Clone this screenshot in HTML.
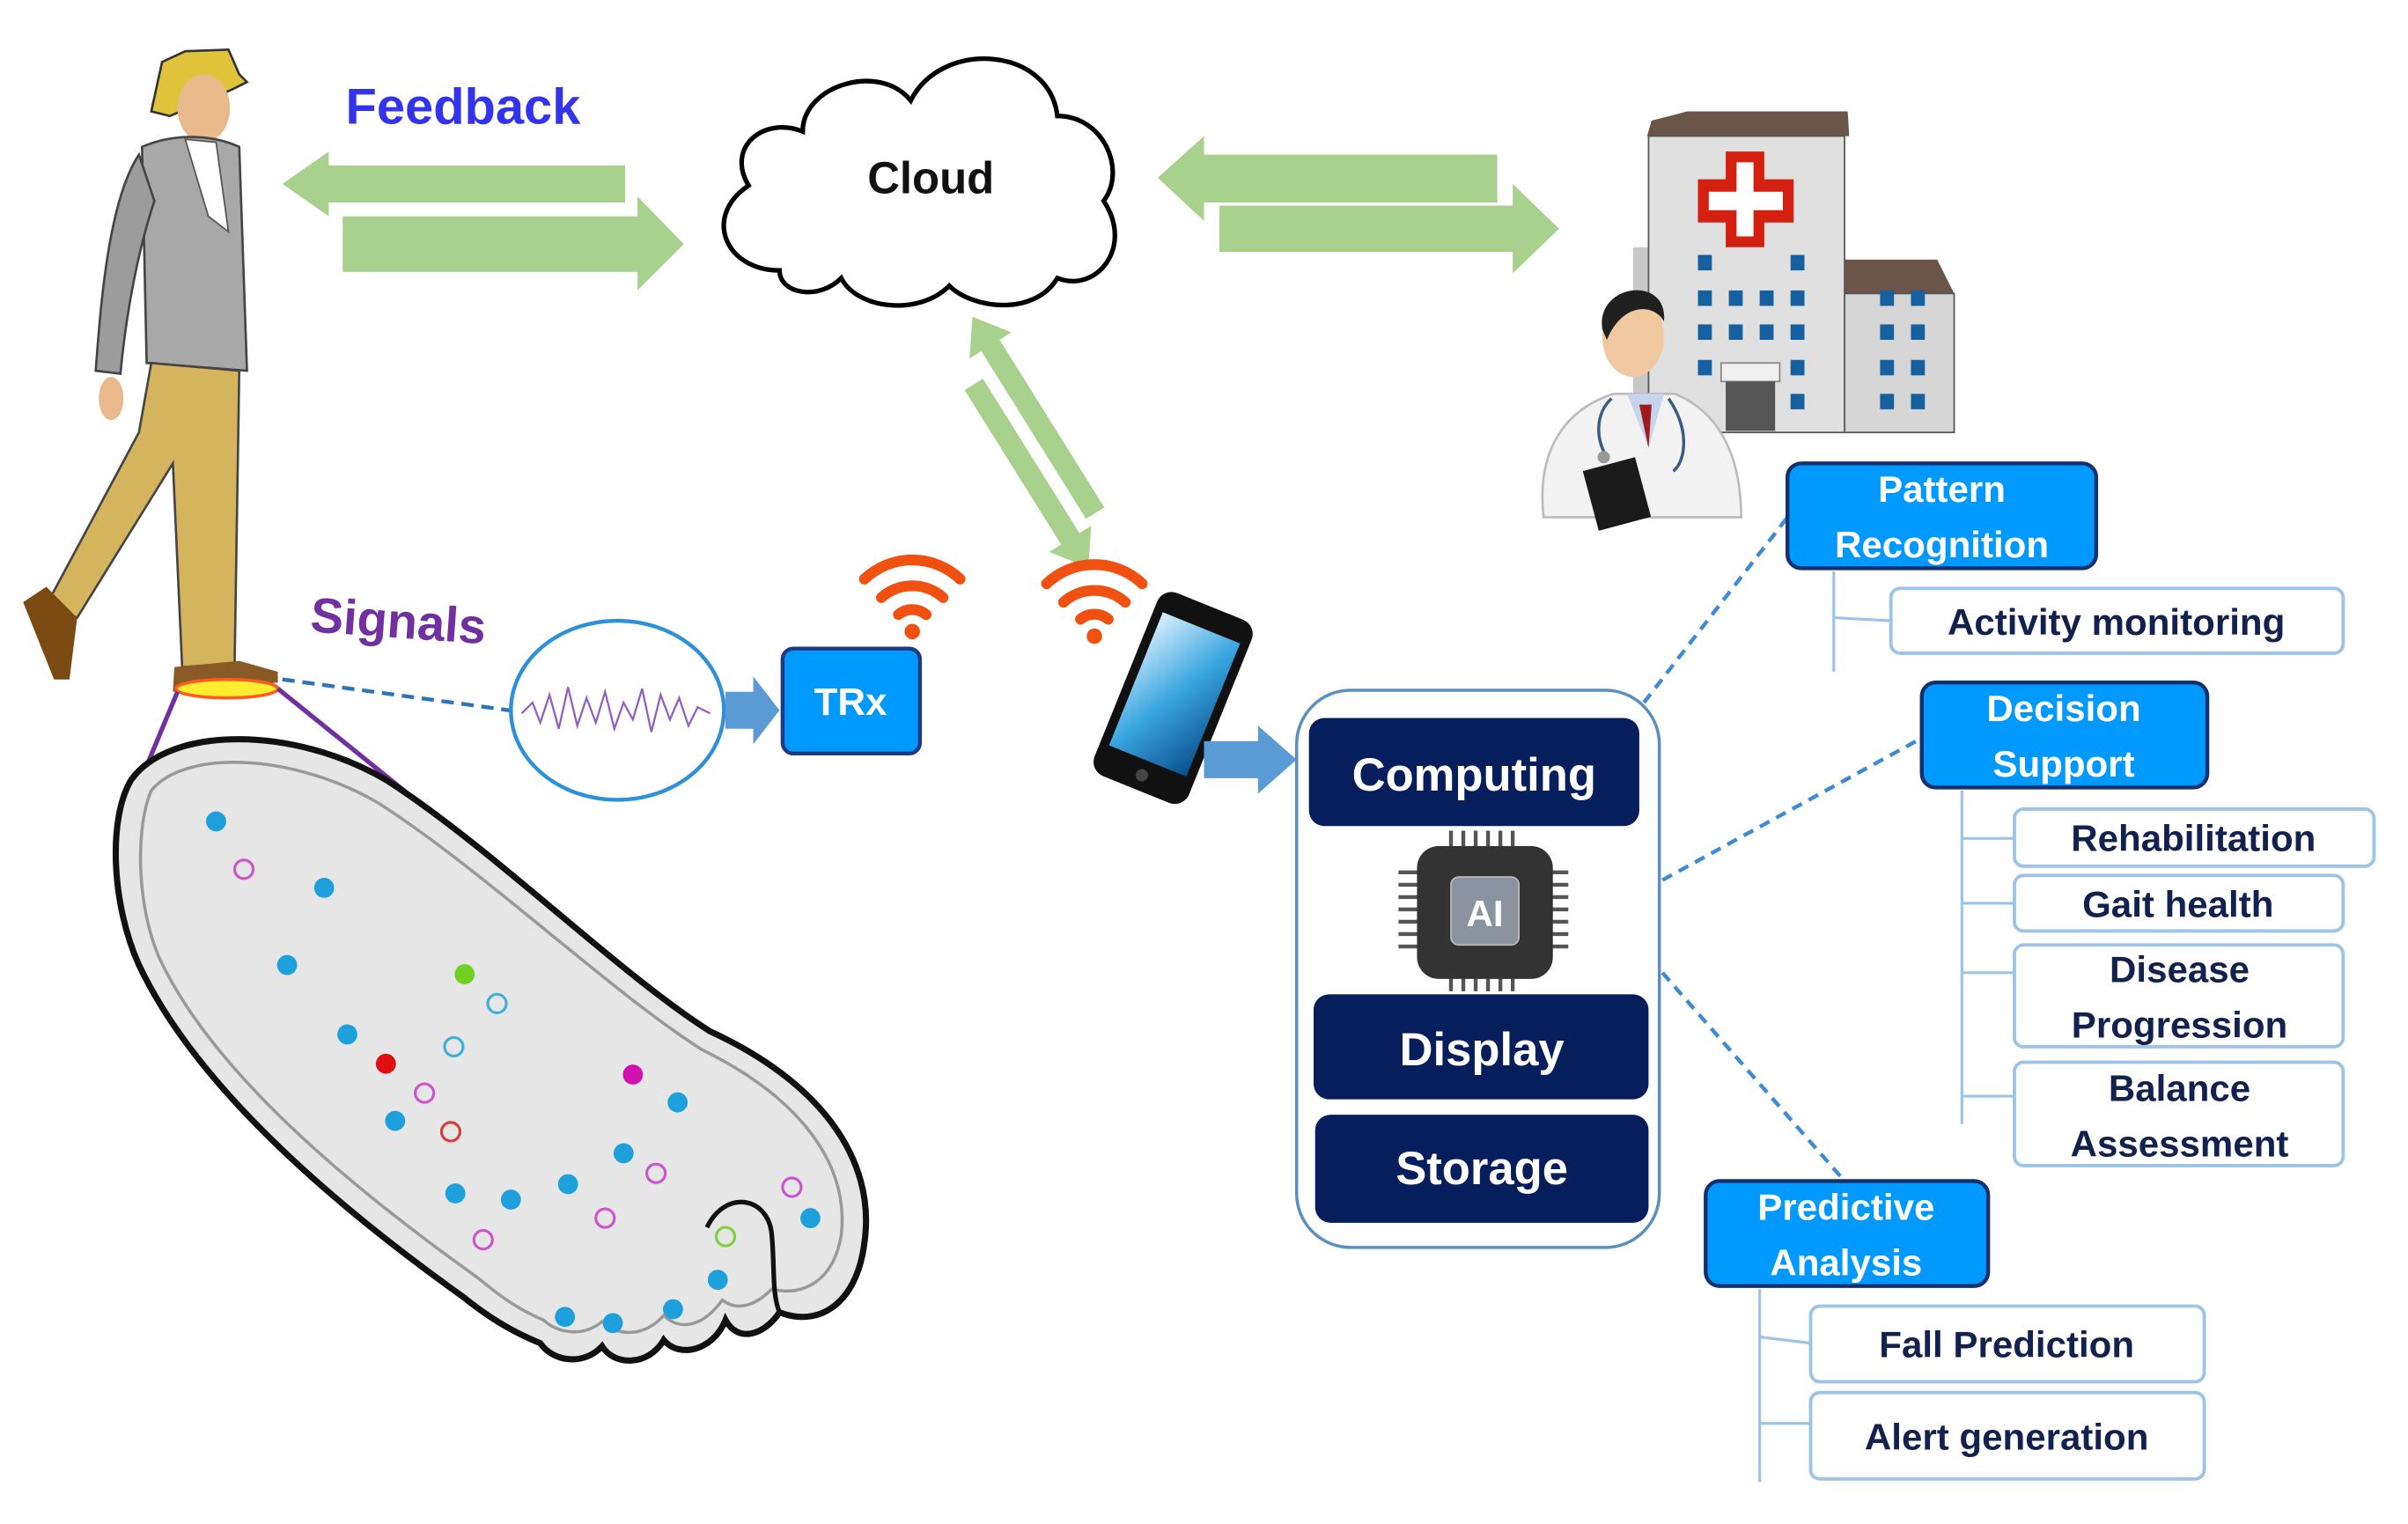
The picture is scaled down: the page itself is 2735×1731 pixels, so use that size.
<!DOCTYPE html>
<html><head><meta charset="utf-8"><style>
html,body{margin:0;padding:0;background:#fff;}
svg{display:block;}
text{font-family:"Liberation Sans",sans-serif;}
</style></head><body>
<svg width="2735" height="1731" viewBox="0 0 1560 987" xmlns="http://www.w3.org/2000/svg">
<defs>
<linearGradient id="scr" x1="0" y1="0" x2="1" y2="1"><stop offset="0" stop-color="#d8f0ff"/><stop offset="0.5" stop-color="#3aa6e0"/><stop offset="1" stop-color="#0b4f8c"/></linearGradient>
</defs>
<text x="300" y="80" font-size="33" font-weight="bold" fill="#3333ee" text-anchor="middle">Feedback</text>
<polygon points="183,119 213,98 213,107 405,107 405,131 213,131 213,140" fill="#a9d18e"/>
<polygon points="222,140 413,140 413,127 443,158 413,188 413,176 222,176" fill="#a9d18e"/>
<polygon points="750,115 780,88 780,100 970,100 970,131 780,131 780,143" fill="#a9d18e"/>
<polygon points="790,133 980,133 980,119 1010,148 980,177 980,163 790,163" fill="#a9d18e"/>
<!-- diagonal arrows (two parallel) -->
<g transform="translate(630,205) rotate(58)">
<polygon points="0,0 22,-16 22,-7 150,-7 150,7 22,7 22,16" fill="#a9d18e"/>
</g>
<g transform="translate(722,357) rotate(238)">
<polygon points="0,0 22,-16 22,-7 140,-7 140,7 22,7 22,16" fill="#a9d18e" transform="translate(0,-20)"/>
</g>
<path d="M505,175 C470,175 455,140 485,120 C470,95 495,75 520,85 C520,55 570,40 590,65 C610,25 680,30 685,75 C715,75 730,110 715,130 C735,160 710,190 685,180 C670,205 630,200 615,185 C595,205 555,200 545,180 C530,195 505,190 505,175 Z" fill="#fff" stroke="#000" stroke-width="3"/>
<text x="603" y="125" font-size="29" font-weight="bold" fill="#111" text-anchor="middle">Cloud</text>
<g>
<rect x="1058" y="160" width="30" height="118" fill="#c8c8c8"/>
<polygon points="1195,168 1255,168 1266,190 1195,190" fill="#6b5548"/>
<rect x="1195" y="190" width="71" height="90" fill="#d6d6d6" stroke="#555"/>
<polygon points="1070,78 1093,72 1197,72 1198,88 1067,88" fill="#6b5548"/>
<rect x="1068" y="88" width="127" height="192" fill="#e0e0e0" stroke="#555"/>
<polygon points="1118,98 1143,98 1143,116 1162,116 1162,144 1143,144 1143,160 1118,160 1118,144 1100,144 1100,116 1118,116" fill="#d42010"/>
<polygon points="1125,105 1136,105 1136,124 1155,124 1155,136 1136,136 1136,153 1125,153 1125,136 1107,136 1107,124 1125,124" fill="#fff"/>
<g fill="#1760a0">
<rect x="1100" y="165" width="9" height="10"/><rect x="1160" y="165" width="9" height="10"/>
<rect x="1100" y="188" width="9" height="10"/><rect x="1120" y="188" width="9" height="10"/><rect x="1140" y="188" width="9" height="10"/><rect x="1160" y="188" width="9" height="10"/>
<rect x="1100" y="210" width="9" height="10"/><rect x="1120" y="210" width="9" height="10"/><rect x="1140" y="210" width="9" height="10"/><rect x="1160" y="210" width="9" height="10"/>
<rect x="1100" y="233" width="9" height="10"/><rect x="1160" y="233" width="9" height="10"/><rect x="1160" y="255" width="9" height="10"/>
<rect x="1218" y="188" width="9" height="10"/><rect x="1238" y="188" width="9" height="10"/>
<rect x="1218" y="210" width="9" height="10"/><rect x="1238" y="210" width="9" height="10"/>
<rect x="1218" y="233" width="9" height="10"/><rect x="1238" y="233" width="9" height="10"/>
<rect x="1218" y="255" width="9" height="10"/><rect x="1238" y="255" width="9" height="10"/>
</g>
<rect x="1115" y="235" width="38" height="12" fill="#f0f0f0" stroke="#888"/>
<rect x="1118" y="247" width="32" height="32" fill="#555"/>
</g>
<g>
<path d="M1000,335 C995,290 1015,265 1045,255 L1085,255 C1110,265 1128,290 1128,335 Z" fill="#f2f2f2" stroke="#bbb" stroke-width="1.5"/>
<polygon points="1054,255 1078,255 1068,290" fill="#c6d4ee"/>
<polygon points="1062,262 1070,262 1068,290" fill="#9e1a1a"/>
<ellipse cx="1058" cy="218" rx="20" ry="26" fill="#f1c9a0"/>
<path d="M1038,213 C1034,183 1081,178 1078,208 C1071,196 1051,196 1041,220 Z" fill="#1f1f1f"/>
<rect x="1030" y="300" width="35" height="40" fill="#1a1a1a" transform="rotate(-15 1047 320)"/>
<path d="M1044,258 C1031,270 1036,290 1041,295 M1081,258 C1096,280 1091,300 1084,305" stroke="#3d5a80" stroke-width="2" fill="none"/>
<circle cx="1039" cy="296" r="4" fill="#999"/>
</g>
<g>
<polygon points="105,40 120,33 148,32 155,48 160,53 150,58 110,75 98,72" fill="#e0c33a" stroke="#333" stroke-width="1.5"/>
<ellipse cx="132" cy="70" rx="17" ry="22" fill="#e9b98b"/>
<path d="M92,95 C115,85 140,88 155,95 L160,240 L95,235 Z" fill="#a8a8a8" stroke="#444" stroke-width="1.5"/>
<path d="M90,100 C70,130 65,200 62,240 L78,242 C82,200 90,160 100,130 Z" fill="#9c9c9c" stroke="#444" stroke-width="1.5"/>
<polygon points="120,90 140,92 148,150 135,140" fill="#fff" stroke="#555"/>
<ellipse cx="72" cy="258" rx="8" ry="14" fill="#e9b98b"/>
<path d="M98,235 L155,240 L152,430 L118,432 L112,300 L50,400 L30,392 L90,280 Z" fill="#d4b55e" stroke="#444" stroke-width="1.5"/>
<path d="M30,380 L50,400 L45,440 L35,440 L15,390 Z" fill="#7a4a12"/>
<path d="M113,432 L155,428 L180,435 L180,442 L112,448 Z" fill="#8a5a25"/>
<ellipse cx="147" cy="446" rx="33" ry="6" fill="#ffee30" stroke="#ff5a20" stroke-width="2"/>
</g>
<text x="258" y="413" font-size="32" font-weight="bold" fill="#7030a0" text-anchor="middle" transform="rotate(4 258 403)">Signals</text>
<line x1="183" y1="440" x2="330" y2="460" stroke="#2e75b6" stroke-width="2.5" stroke-dasharray="8,5"/>
<line x1="115" y1="448" x2="80" y2="532" stroke="#7030a0" stroke-width="3"/>
<line x1="180" y1="446" x2="445" y2="660" stroke="#7030a0" stroke-width="3"/>
<ellipse cx="400" cy="460" rx="69" ry="58" fill="#fff" stroke="#2e90d8" stroke-width="2.5"/>
<polyline points="338,462 345,455 350,468 356,450 362,472 368,445 374,470 380,452 386,468 392,448 398,472 404,455 410,466 416,446 422,474 428,450 434,466 440,452 446,470 452,458 460,462" fill="none" stroke="#9060c0" stroke-width="1.3"/>
<polygon points="470,448 488,448 488,438 505,460 488,482 488,472 470,472" fill="#5b9bd5"/>
<rect x="507" y="420" width="89" height="68" rx="7" fill="#0099ff" stroke="#1f3a80" stroke-width="2.5"/>
<text x="551" y="463" font-size="25" font-weight="bold" fill="#fff" text-anchor="middle">TRx</text>
<g fill="none" stroke="#f05010" stroke-width="7" stroke-linecap="round">
<path d="M560,375 A45,45 0 0 1 622,375"/><path d="M571,387 A30,30 0 0 1 611,387"/><path d="M582,398 A14,14 0 0 1 600,398"/>
<path d="M678,378 A45,45 0 0 1 740,378"/><path d="M689,390 A30,30 0 0 1 729,390"/><path d="M700,401 A14,14 0 0 1 718,401"/>
</g>
<circle cx="591" cy="409" r="5" fill="#f05010"/><circle cx="709" cy="412" r="5" fill="#f05010"/>
<g transform="rotate(22 760 452)">
<rect x="727" y="388" width="66" height="128" rx="10" fill="#111"/>
<rect x="733" y="403" width="54" height="93" fill="url(#scr)"/>
<circle cx="760" cy="506" r="4" fill="#444"/>
</g>
<polygon points="780,480 815,480 815,470 840,492 815,514 815,504 780,504" fill="#5b9bd5"/>
<rect x="840" y="447" width="235" height="361" rx="35" fill="#fff" stroke="#5b8fc0" stroke-width="2"/>
<rect x="848" y="465" width="214" height="70" rx="10" fill="#061f5c"/>
<text x="955" y="512" font-size="30" font-weight="bold" fill="#fff" text-anchor="middle">Computing</text>
<rect x="851" y="644" width="217" height="68" rx="10" fill="#061f5c"/>
<text x="960" y="690" font-size="30" font-weight="bold" fill="#fff" text-anchor="middle">Display</text>
<rect x="852" y="722" width="216" height="70" rx="10" fill="#061f5c"/>
<text x="960" y="767" font-size="30" font-weight="bold" fill="#fff" text-anchor="middle">Storage</text>
<g>
<g stroke="#555" stroke-width="2.5">
<line x1="940" y1="538" x2="940" y2="642"/><line x1="948" y1="538" x2="948" y2="642"/><line x1="956" y1="538" x2="956" y2="642"/><line x1="964" y1="538" x2="964" y2="642"/><line x1="972" y1="538" x2="972" y2="642"/><line x1="980" y1="538" x2="980" y2="642"/>
<line x1="906" y1="565" x2="1016" y2="565"/><line x1="906" y1="573" x2="1016" y2="573"/><line x1="906" y1="581" x2="1016" y2="581"/><line x1="906" y1="589" x2="1016" y2="589"/><line x1="906" y1="597" x2="1016" y2="597"/><line x1="906" y1="605" x2="1016" y2="605"/><line x1="906" y1="613" x2="1016" y2="613"/>
</g>
<rect x="918" y="548" width="88" height="86" rx="14" fill="#333"/>
<rect x="940" y="568" width="44" height="44" rx="5" fill="#8b939e" stroke="#bbb"/>
<text x="962" y="600" font-size="24" font-weight="bold" fill="#fff" text-anchor="middle">AI</text>
</g>
<g stroke="#3e8ad6" stroke-width="2.5" stroke-dasharray="7,5" fill="none">
<line x1="1065" y1="455" x2="1158" y2="335"/>
<line x1="1077" y1="570" x2="1245" y2="478"/>
<line x1="1077" y1="630" x2="1195" y2="765"/>
</g>
<g stroke="#9dc3e6" stroke-width="1.8" fill="none">
<line x1="1188" y1="370" x2="1188" y2="435"/><line x1="1188" y1="400" x2="1225" y2="402"/>
<line x1="1271" y1="512" x2="1271" y2="728"/><line x1="1271" y1="543" x2="1305" y2="543"/><line x1="1271" y1="585" x2="1305" y2="585"/><line x1="1271" y1="630" x2="1305" y2="630"/><line x1="1271" y1="710" x2="1305" y2="710"/>
<line x1="1140" y1="835" x2="1140" y2="960"/><line x1="1140" y1="866" x2="1173" y2="870"/><line x1="1140" y1="922" x2="1173" y2="922"/>
</g>
<g fill="#0099ff" stroke="#12306e" stroke-width="2.5">
<rect x="1158" y="300" width="200" height="68" rx="9"/>
<rect x="1245" y="442" width="185" height="68" rx="9"/>
<rect x="1105" y="765" width="183" height="68" rx="9"/>
</g>
<g font-size="24" font-weight="bold" fill="#fff" text-anchor="middle">
<text x="1258" y="325">Pattern</text><text x="1258" y="361">Recognition</text>
<text x="1337" y="467">Decision</text><text x="1337" y="503">Support</text>
<text x="1196" y="790">Predictive</text><text x="1196" y="826">Analysis</text>
</g>
<g fill="#fff" stroke="#9dc3e6" stroke-width="2.2">
<rect x="1225" y="381" width="293" height="42" rx="6"/>
<rect x="1305" y="524" width="233" height="37" rx="6"/>
<rect x="1305" y="567" width="213" height="36" rx="6"/>
<rect x="1305" y="612" width="213" height="66" rx="6"/>
<rect x="1305" y="688" width="213" height="67" rx="6"/>
<rect x="1173" y="846" width="255" height="49" rx="6"/>
<rect x="1173" y="902" width="255" height="56" rx="6"/>
</g>
<g font-size="24" font-weight="bold" fill="#13214e" text-anchor="middle">
<text x="1371" y="411">Activity monitoring</text>
<text x="1421" y="551">Rehabilitation</text>
<text x="1411" y="594">Gait health</text>
<text x="1412" y="636">Disease</text><text x="1412" y="672">Progression</text>
<text x="1412" y="713">Balance</text><text x="1412" y="749">Assessment</text>
<text x="1300" y="879">Fall Prediction</text>
<text x="1300" y="939">Alert generation</text>
</g>
<!-- foot with toes -->
<path d="M85,505 C110,470 190,470 250,505 C320,550 400,630 460,668 C530,700 568,750 560,805 C555,845 530,860 505,850 C495,865 478,870 470,855 C462,875 440,880 430,868 C420,885 398,885 390,872 C378,885 358,882 350,870 C330,862 315,852 300,840 C230,790 130,710 90,625 C72,585 70,530 85,505 Z" fill="#e6e6e6" stroke="#111" stroke-width="4"/>
<path d="M98,512 C120,485 190,488 245,520 C315,565 395,642 455,680 C520,712 550,755 545,800 C540,830 520,840 500,835 C490,845 478,850 468,842 C455,860 440,862 430,852 C418,866 400,866 390,856 C378,866 362,864 352,855 C335,848 322,838 310,828 C240,778 140,700 103,620 C88,585 88,535 98,512 Z" fill="none" stroke="#999" stroke-width="2"/>
<g fill="none" stroke="#111" stroke-width="3">
<path d="M458,795 C470,770 498,775 500,800 C502,822 500,838 505,850"/>
</g>
<g fill="#1ea0dc">
<circle cx="140" cy="532" r="6.5"/><circle cx="210" cy="575" r="6.5"/><circle cx="186" cy="625" r="6.5"/><circle cx="225" cy="670" r="6.5"/><circle cx="256" cy="726" r="6.5"/><circle cx="295" cy="773" r="6.5"/><circle cx="331" cy="777" r="6.5"/><circle cx="368" cy="767" r="6.5"/><circle cx="404" cy="747" r="6.5"/><circle cx="439" cy="714" r="6.5"/><circle cx="465" cy="829" r="6.5"/><circle cx="436" cy="848" r="6.5"/><circle cx="397" cy="857" r="6.5"/><circle cx="366" cy="853" r="6.5"/><circle cx="525" cy="789" r="6.5"/>
</g>
<g fill="none" stroke-width="1.8">
<circle cx="158" cy="563" r="6" stroke="#cc55cc"/><circle cx="275" cy="708" r="6" stroke="#cc55cc"/><circle cx="392" cy="789" r="6" stroke="#cc55cc"/><circle cx="425" cy="760" r="6" stroke="#cc55cc"/><circle cx="313" cy="803" r="6" stroke="#cc55cc"/><circle cx="513" cy="769" r="6" stroke="#cc55cc"/>
<circle cx="322" cy="650" r="6" stroke="#40b0d8"/><circle cx="294" cy="678" r="6" stroke="#40b0d8"/>
<circle cx="292" cy="733" r="6" stroke="#d04040"/><circle cx="470" cy="801" r="6" stroke="#80d040"/>
</g>
<circle cx="301" cy="631" r="6.5" fill="#70d020"/><circle cx="250" cy="689" r="6.5" fill="#e01010"/><circle cx="410" cy="696" r="6.5" fill="#d010b0"/>
</svg>
</body></html>
